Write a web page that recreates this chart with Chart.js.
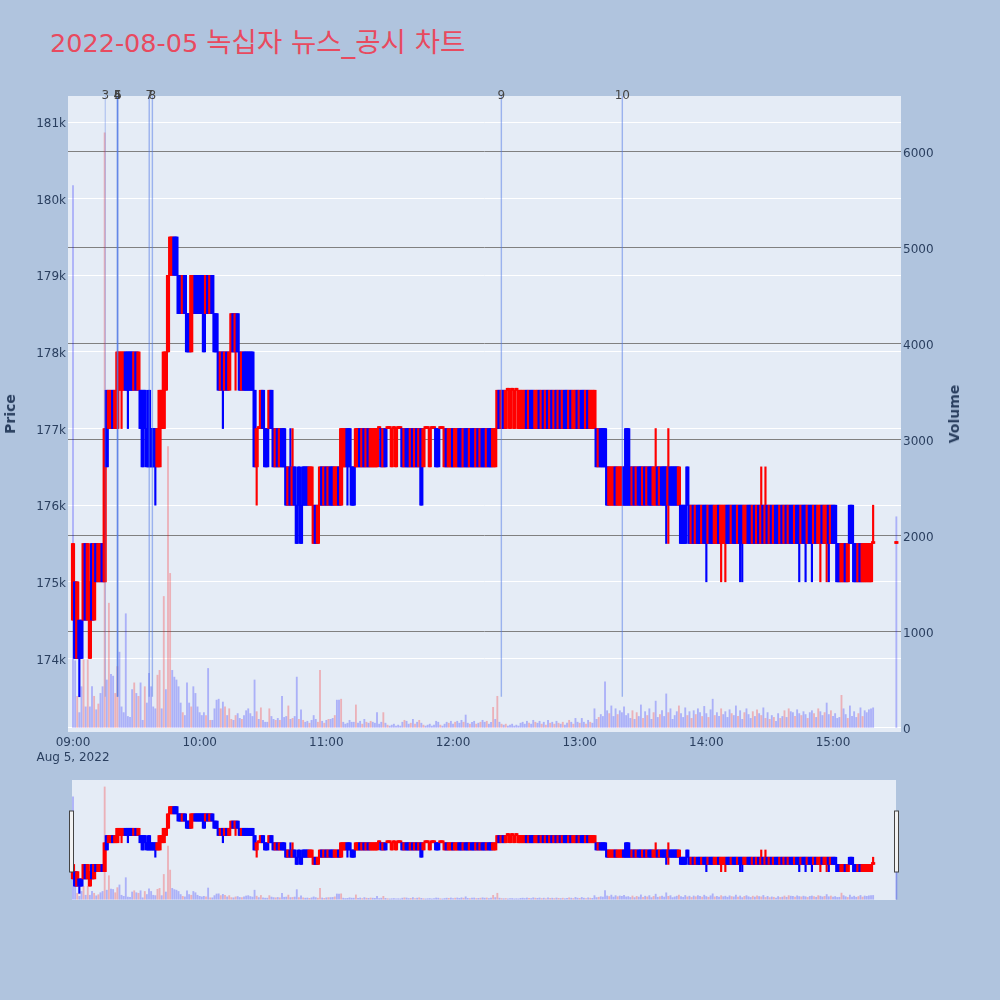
<!DOCTYPE html>
<html>
<head>
<meta charset="utf-8">
<script src="https://cdn.jsdelivr.net/npm/chart.js@4.4.1/dist/chart.umd.min.js"></script>
<style>
    html, body { margin: 0; padding: 0; background: #b0c4de; }
    #wrap { position: relative; width: 1000px; height: 1000px; overflow: hidden; font-family: "DejaVu Sans", "Noto Sans CJK KR", sans-serif; }
    #title { position: absolute; left: 50px; top: 27px; font-size: 25.5px; line-height: 30px; color: #e84a5f; white-space: nowrap; }
    #title .ko { font-size: 27.5px; }
    #main { position: absolute; left: 0; top: 0; }
    #slider { position: absolute; left: 0; top: 770px; }
    .axis-title { position: absolute; font-size: 14px; font-weight: bold; color: #2a3f5f; white-space: nowrap; transform: translate(-50%, -50%) rotate(-90deg); }
</style>
</head>
<body>
<div id="wrap">
    <div id="title">2022-08-05 <span class="ko">녹십자 뉴스_공시 차트</span></div>
    <canvas id="main" width="1000" height="775"></canvas>
    <canvas id="slider" width="1000" height="140"></canvas>
    <div class="axis-title" style="left:10px; top:414px;">Price</div>
    <div class="axis-title" style="left:954px; top:414px;">Volume</div>
</div>
<script>
// minutes after 09:00, prices in thousands of won
const priceTicks = [ 174, 175, 176, 177, 178, 179, 180, 181 ];
const volumeTicks = [ 0, 1000, 2000, 3000, 4000, 5000, 6000 ];
const hourTicks = [ 0, 60, 120, 180, 240, 300, 360 ];
const hourLabels = [ '09:00', '10:00', '11:00', '12:00', '13:00', '14:00', '15:00' ];
const dateLabel = 'Aug 5, 2022';

const newsMinutes = [ 15.3, 21.0, 21.1, 21.2, 36.1, 37.6, 202.9, 260.2 ];
const newsLabels = [ '3', '4', '5', '6', '7', '8', '9', '10' ];

const opens = [
    174.5,175,174,174.5,174.5,174.5,175.5,174.5,174,175.5,
    174.5,175.5,175,175,175.5,175,177.5,177,177,177.5,
    177,177,177.5,177.5,177.5,178,178,178,178,177.5,
    178,177.5,177.5,177.5,177.5,177,177.5,177,177,177,
    176.5,176.5,177,177,177.5,178,179,179,179.5,179.5,
    179,179,178.5,179,178.5,178.5,178,178.5,179,179,
    179,179,179,178.5,179,178.5,179,178.5,178.5,178,
    177.5,178,177.5,178,177.5,178,178.5,178,178.5,178,
    177.5,178,178,178,178,178,177.5,176.5,177,177,
    177.5,177,177,177,177.5,177,176.5,177,176.5,177,
    177,176.5,176,176.5,176,176.5,176,176.5,176,176.5,
    176.5,176.5,176,176,175.5,176,175.5,176,176.5,176,
    176.5,176,176.5,176.5,176,176,176.5,176,176.5,176.5,
    177,177,176.5,176.5,176.5,176.5,177,176.5,177,176.5,
    177,176.5,176.5,176.5,176.5,177,177,176.5,177,177,
    177,176.5,177,176.5,177,177,177,176.5,177,177,
    176.5,177,176.5,177,176.5,177,176.5,177,177,176.5,
    177,177,177,177,177,177,176.5,177,176.5,176.5,
    177,176.5,176.5,177,177,176.5,177,177,176.5,177,
    177,176.5,177,176.5,177,177,176.5,177,177,176.5,
    176.5,177,177.5,177,177.5,177,177.5,177,177.5,177,
    177.5,177,177,177,177,177.5,177,177.5,177.5,177,
    177,177.5,177,177.5,177,177.5,177,177.5,177,177.5,
    177,177.5,177,177.5,177.5,177,177.5,177,177,177.5,
    177,177.5,177.5,177,177.5,177,177,177,177,176.5,
    177,177,177,176.5,176,176,176,176.5,176,176,
    176,176.5,177,177,176.5,176,176.5,176,176.5,176.5,
    176,176.5,176,176.5,176.5,176,176,176.5,176,176.5,
    176.5,176.5,176,176.5,176.5,176.5,176.5,176,176,176,
    176,176.5,176,175.5,176,175.5,176,176,175.5,176,
    176,175.5,176,176,175.5,175.5,176,175.5,175.5,175.5,
    176,176,175.5,176,176,175.5,176,176,175.5,175.5,
    176,176,175.5,176,175.5,176,175.5,176,175.5,176,
    175.5,176,175.5,176,176,175.5,176,175.5,176,175.5,
    176,176,175.5,176,176,175.5,176,176,175.5,176,
    176,175.5,176,175.5,175.5,176,175.5,175.5,176,175.5,
    176,176,175.5,175.5,175,175,175.5,175,176,176,
    175.5,175.5,175,175.5,175,175,175,175,175,175.5,
    null,null,null,null,null,null,null,null,null,null,
    175.5
];

const closes = [
    175.5,174,175,174,174,175.5,174.5,175.5,175,174.5,
    175.5,175,175.5,175.5,175,177,176.5,177.5,177.5,177,
    177.5,178,178,178,178,177.5,177.5,177.5,177.5,178,
    177.5,178,177,176.5,177,176.5,176.5,176.5,176.5,176.5,
    177,177.5,177.5,178,178,179,179.5,179.5,179,179,
    178.5,178.5,179,178.5,178,178,179,179,178.5,178.5,
    178.5,178.5,178,179,178.5,179,178.5,178,178,177.5,
    178,177.5,178,177.5,178,178.5,178,178.5,178,177.5,
    178,177.5,177.5,177.5,177.5,177.5,176.5,177,177,177.5,
    177,176.5,176.5,177.5,177,176.5,177,176.5,177,176.5,
    176.5,176,176.5,176,176.5,176,175.5,176,175.5,176,
    176,176,176.5,176.5,176,175.5,176,176.5,176,176.5,
    176,176.5,176,176,176.5,176.5,176,177,177,177,
    176.5,176.5,176,176,177,177,176.5,177,176.5,177,
    176.5,177,177,177,177,177,176.5,177,176.5,177,
    177,177,177,177,177,177,176.5,177,176.5,176.5,
    177,176.5,177,176.5,177,176,177,177,177,177,
    177,177,176.5,176.5,177,177,177,176.5,177,177,
    176.5,177,177,176.5,176.5,177,176.5,176.5,177,176.5,
    176.5,177,176.5,177,176.5,176.5,177,176.5,176.5,177,
    177,177.5,177,177.5,177,177.5,177.5,177.5,177.5,177.5,
    177.5,177.5,177.5,177.5,177.5,177,177.5,177,177,177.5,
    177.5,177,177.5,177,177.5,177,177.5,177,177.5,177,
    177.5,177,177.5,177,177,177.5,177,177.5,177.5,177,
    177.5,177,177,177.5,177,177.5,177.5,177.5,176.5,177,
    176.5,176.5,176.5,176,176.5,176.5,176.5,176,176.5,176.5,
    176.5,176,176,176,176,176.5,176,176.5,176,176,
    176.5,176,176.5,176,176,176.5,176.5,176,176.5,176,
    176,176,176.5,176,176,176,176,176.5,175.5,175.5,
    175.5,176,175.5,176,175.5,176,175.5,175.5,176,175.5,
    175.5,176,175.5,175.5,176,176,175.5,176,176,176,
    175.5,175.5,176,175.5,175.5,176,175.5,175.5,176,176,
    175.5,175.5,176,175.5,176,175.5,176,175.5,176,175.5,
    176,175.5,176,175.5,175.5,176,175.5,176,175.5,176,
    175.5,175.5,176,175.5,175.5,176,175.5,175.5,176,175.5,
    175.5,176,175.5,176,176,175.5,176,176,175.5,176,
    175.5,175.5,175,175,175.5,175.5,175,175.5,175.5,175.5,
    175,175,175.5,175,175.5,175.5,175.5,175.5,175.5,175.5,
    null,null,null,null,null,null,null,null,null,null,
    175.5
];

// [minute, high, low] where the wick leaves the body
const wicks = [
    [ 3, null, 173.5 ], [ 23, null, 177 ], [ 26, null, 177 ], [ 39, null, 176 ],
    [ 71, null, 177 ], [ 77, null, 177.5 ], [ 87, null, 176 ], [ 103, 177, null ],
    [ 104, 177, null ], [ 130, null, 176 ], [ 276, 177, null ], [ 281, null, 175.5 ],
    [ 282, 177, 175.5 ], [ 300, null, 175 ], [ 307, null, 175 ], [ 309, null, 175 ],
    [ 316, null, 175 ], [ 317, null, 175 ], [ 326, 176.5, null ], [ 328, 176.5, null ],
    [ 344, null, 175 ], [ 347, null, 175 ], [ 350, null, 175 ], [ 354, null, 175 ],
    [ 357, null, 175 ], [ 358, null, 175 ], [ 379, 176, null ]
];

const volumes = [
    5650,700,330,160,430,710,220,710,220,430,
    330,190,250,360,430,6200,500,1300,560,540,
    360,640,790,220,160,1190,120,110,400,470,
    360,330,470,80,430,260,570,430,220,200,
    550,600,200,1370,400,2930,1610,600,530,500,
    430,260,160,130,470,260,220,430,360,220,
    160,130,160,130,620,80,80,200,290,300,
    200,270,220,130,200,90,80,130,150,100,
    90,130,180,200,150,120,500,170,90,210,
    80,60,60,200,120,90,80,100,80,330,
    110,120,230,90,100,120,530,90,190,80,
    60,70,50,80,130,90,60,600,70,50,
    80,90,90,100,130,290,290,300,60,40,
    50,80,60,60,240,50,70,40,90,60,
    50,70,60,50,160,40,60,160,50,30,
    20,30,40,20,30,20,60,80,70,40,
    50,90,40,60,80,50,30,20,30,40,
    20,30,70,60,30,20,40,60,50,70,
    40,60,70,50,80,60,135,50,40,60,
    70,40,50,60,80,60,70,40,60,215,
    90,330,60,40,30,40,20,30,40,20,
    30,20,50,60,40,70,50,40,80,60,
    50,70,40,60,30,80,50,60,40,70,
    50,40,60,30,50,80,60,40,100,60,
    50,100,60,40,80,60,50,200,90,110,
    140,120,480,180,150,230,120,200,140,180,
    160,220,130,150,100,180,90,160,120,240,
    100,170,130,200,90,160,280,110,140,180,
    120,355,160,200,90,130,170,230,150,110,
    210,130,170,100,180,140,200,160,120,225,
    150,110,190,300,130,160,120,200,140,170,
    110,190,150,130,230,120,180,90,160,200,
    140,100,170,120,190,150,130,210,100,160,
    90,130,110,70,150,100,120,180,110,200,
    170,160,120,190,150,130,170,140,100,160,
    180,150,110,200,170,130,160,260,140,180,
    120,150,100,110,340,200,140,100,230,120,
    170,110,150,210,120,180,160,190,200,210,
    null,null,null,null,null,null,null,null,null,null,
    2200
];

const UP = '#ff0000';
const DOWN = '#0000ff';
const UP_VOL = 'rgba(255, 0, 0, 0.25)';
const DOWN_VOL = 'rgba(0, 0, 255, 0.25)';
const PLOT_BG = '#e5ecf6';

const priceRange = { min: 173.04, max: 181.34 };
const volumeRange = { min: -42, max: 6583 };
const minuteRange = { min: -2.37, max: 392.2 };

function buildSeries () {
    const wickMap = new Map( wicks.map( w => [ w[0], w ] ) );
    const bodies = [], sticks = [], vols = [];
    const bodyColors = [], volColors = [];
    let prevClose = null;

    opens.forEach( ( o, m ) => {
        if ( o === null ) return;
        const c = closes[m];
        const w = wickMap.get( m );
        const hi = w && w[1] !== null ? w[1] : Math.max( o, c );
        const lo = w && w[2] !== null ? w[2] : Math.min( o, c );
        const color = c >= o ? UP : DOWN;

        bodies.push( { x: m, y: [ o, c ] } );
        sticks.push( { x: m, y: [ lo, hi ] } );
        bodyColors.push( color );

        vols.push( { x: m, y: volumes[m] } );
        volColors.push( prevClose !== null && c > prevClose ? UP_VOL : DOWN_VOL );
        prevClose = c;
    } );

    return { bodies, sticks, vols, bodyColors, volColors };
}

function makeDatasets ( s ) {
    return [ {
        data: s.bodies,
        yAxisID: 'y',
        backgroundColor: s.bodyColors,
        barThickness: 3.5,
        minBarLength: 2,
        grouped: false,
        order: 1
    }, {
        data: s.sticks,
        yAxisID: 'y',
        backgroundColor: s.bodyColors,
        barThickness: 1.5,
        minBarLength: 2,
        grouped: false,
        order: 2
    }, {
        data: s.vols,
        yAxisID: 'yv',
        backgroundColor: s.volColors,
        barThickness: 1.2,
        grouped: false,
        order: 3
    } ];
}

const plotBackground = {
    id: 'plotBackground',
    beforeDraw ( chart, args, opts ) {
        const { ctx, chartArea } = chart;
        const left = opts.left ?? chartArea.left;
        const right = opts.right ?? chartArea.right;
        ctx.save();
        ctx.fillStyle = PLOT_BG;
        ctx.fillRect( left, chartArea.top, right - left, chartArea.bottom - chartArea.top );
        ctx.restore();
    }
};

const newsMarkers = {
    id: 'newsMarkers',
    afterDatasetsDraw ( chart ) {
        const { ctx, chartArea, scales } = chart;
        const bottom = scales.y.getPixelForValue( 173.5 );
        ctx.save();
        newsMinutes.forEach( ( m, i ) => {
            const px = scales.x.getPixelForValue( m );
            ctx.strokeStyle = i === 0 ? 'rgba(80, 120, 230, 0.3)' : 'rgba(80, 120, 230, 0.5)';
            ctx.lineWidth = 1.4;
            ctx.beginPath();
            ctx.moveTo( px, chartArea.top );
            ctx.lineTo( px, bottom );
            ctx.stroke();
        } );
        ctx.fillStyle = '#444';
        ctx.font = '12px "DejaVu Sans", sans-serif';
        ctx.textAlign = 'center';
        ctx.textBaseline = 'middle';
        newsMinutes.forEach( ( m, i ) => {
            ctx.fillText( newsLabels[i], scales.x.getPixelForValue( m ), chartArea.top );
        } );
        ctx.restore();
    }
};

const sliderHandles = {
    id: 'sliderHandles',
    afterDraw ( chart ) {
        const { ctx } = chart;
        ctx.save();
        ctx.fillStyle = '#f2f2f2';
        ctx.strokeStyle = '#444';
        ctx.lineWidth = 1;
        [ 69.5, 894.5 ].forEach( x => {
            ctx.fillRect( x, 41, 4, 61 );
            ctx.strokeRect( x, 41, 4, 61 );
        } );
        ctx.restore();
    }
};

Chart.defaults.animation = false;
Chart.defaults.responsive = false;
Chart.defaults.font.family = '"DejaVu Sans", sans-serif';
Chart.defaults.font.size = 12;
Chart.defaults.color = '#2a3f5f';
Chart.defaults.plugins.legend.display = false;
Chart.defaults.plugins.tooltip.enabled = false;

const series = buildSeries();

new Chart( document.getElementById( 'main' ), {
    type: 'bar',
    data: { datasets: makeDatasets( series ) },
    options: {
        layout: { padding: { top: 96, left: 0, right: 0, bottom: 0 } },
        scales: {
            x: {
                type: 'linear',
                min: minuteRange.min,
                max: minuteRange.max,
                offset: false,
                grid: { display: false, offset: false, drawTicks: false },
                border: { display: false },
                afterBuildTicks ( s ) { s.ticks = hourTicks.map( v => ( { value: v } ) ); },
                afterFit ( s ) { s.height = 43; },
                ticks: {
                    autoSkip: false,
                    maxRotation: 0,
                    padding: 3,
                    font: { size: 12, lineHeight: 1.25 },
                    callback: ( v, i ) => i === 0 ? [ hourLabels[i], dateLabel ] : hourLabels[i]
                }
            },
            y: {
                position: 'left',
                min: priceRange.min,
                max: priceRange.max,
                grid: { color: '#ffffff', lineWidth: 1, drawTicks: false },
                border: { display: false },
                afterBuildTicks ( s ) { s.ticks = priceTicks.map( v => ( { value: v } ) ); },
                afterFit ( s ) { s.width = 68; },
                ticks: { padding: 2, labelOffset: 2, callback: v => v + 'k' }
            },
            yv: {
                position: 'right',
                min: volumeRange.min,
                max: volumeRange.max,
                grid: {
                    color: ctx => ctx.tick && ctx.tick.value === 0 ? '#ffffff' : '#808080',
                    lineWidth: 1,
                    drawTicks: false
                },
                border: { display: false },
                afterBuildTicks ( s ) { s.ticks = volumeTicks.map( v => ( { value: v } ) ); },
                afterFit ( s ) { s.width = 99; },
                ticks: { padding: 2, labelOffset: 2, callback: v => String( v ) }
            }
        }
    },
    plugins: [ plotBackground, newsMarkers ]
} );

new Chart( document.getElementById( 'slider' ), {
    type: 'bar',
    data: { datasets: makeDatasets( series ) },
    options: {
        layout: { padding: { top: 10, left: 68, right: 99, bottom: 10 } },
        plugins: { plotBackground: { left: 72, right: 896 } },
        scales: {
            x: { type: 'linear', min: minuteRange.min, max: minuteRange.max, offset: false, display: false },
            y: { min: priceRange.min, max: priceRange.max, display: false },
            yv: { position: 'right', min: volumeRange.min, max: volumeRange.max, display: false }
        }
    },
    plugins: [ plotBackground, sliderHandles ]
} );
</script>
</body>
</html>
